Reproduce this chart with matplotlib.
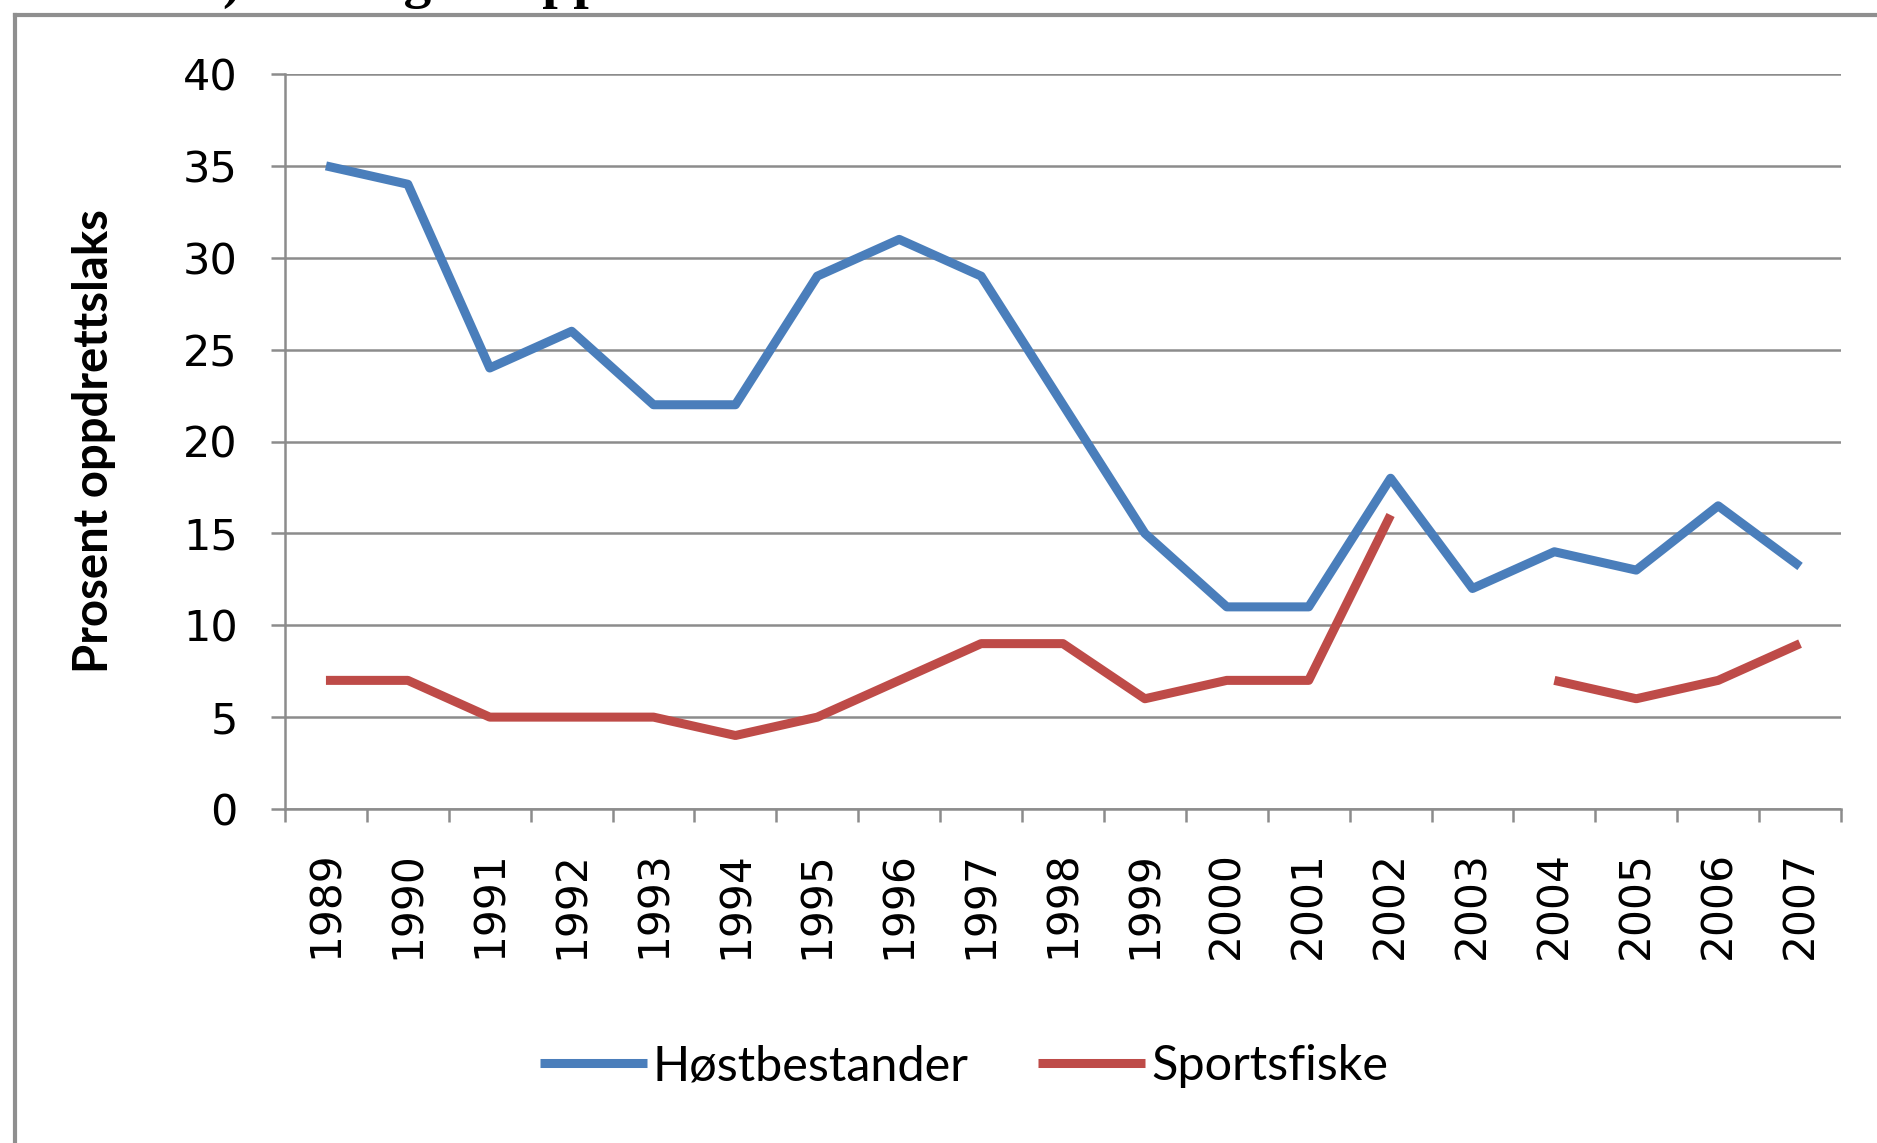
import numpy as np
import matplotlib
matplotlib.use("Agg")
import matplotlib.pyplot as plt
from matplotlib.lines import Line2D

years = ["1989", "1990", "1991", "1992", "1993", "1994", "1995", "1996", "1997", "1998",
         "1999", "2000", "2001", "2002", "2003", "2004", "2005", "2006", "2007"]
hostbestander = [35, 34, 24, 26, 22, 22, 29, 31, 29, 22, 15, 11, 11, 18, 12, 14, 13, 16.5, 13.2]
sportsfiske = [7, 7, 5, 5, 5, 4, 5, 7, 9, 9, 6, 7, 7, 16, np.nan, 7, 6, 7, 9]
yticks = [0, 5, 10, 15, 20, 25, 30, 35, 40]
series_names = ["Høstbestander", "Sportsfiske"]
ylabel = "Prosent oppdrettslaks"
title = "b) Innslag av oppdrettslaks"

BLUE = "#4a7ebb"
RED = "#be4b48"
GRID = "#8c8c8c"

W, H = 1877, 1143
fig = plt.figure(figsize=(W / 100, H / 100), dpi=100)
fig.patch.set_facecolor("white")

# outer frame (left and top lines only visible)
fig.add_artist(Line2D([15 / W, 15 / W], [0, 1 - 15 / H], transform=fig.transFigure,
                      color="#8f8f8f", lw=3))
fig.add_artist(Line2D([15 / W, 1], [1 - 15 / H, 1 - 15 / H], transform=fig.transFigure,
                      color="#8f8f8f", lw=3))

# cut-off title (only descenders visible, as in the reference)
fig.text(192 / W, 1 + 3 / H, title, family="Liberation Serif", weight="bold",
         fontsize=40, va="baseline", ha="left", color="black")

left, right = 285, 1841
top, bottom = 74, 809
ax = fig.add_axes([left / W, 1 - bottom / H, (right - left) / W, (bottom - top) / H])

x = np.arange(len(years))
ax.plot(x, hostbestander, color=BLUE, lw=6.5, solid_joinstyle="round", solid_capstyle="butt",
        label=series_names[0], zorder=3)
ax.plot(x, sportsfiske, color=RED, lw=6.5, solid_joinstyle="round", solid_capstyle="butt",
        label=series_names[1], zorder=3)

ax.set_xlim(-0.5, len(years) - 0.5)
ax.set_ylim(0, 40)
ax.set_yticks(yticks)
ax.set_yticklabels([str(v) for v in yticks], fontsize=31, family="DejaVu Sans")
ax.set_xticks(x)
ax.set_xticklabels(years, rotation=90, fontsize=30.5, family="DejaVu Sans")
ax.set_xticks(np.arange(len(years) + 1) - 0.5, minor=True)

ax.tick_params(axis="x", which="major", length=0, pad=30)
ax.tick_params(axis="x", which="minor", length=9, width=1.8, color=GRID, direction="out")
ax.tick_params(axis="y", which="major", length=10, width=1.8, color=GRID, direction="out", pad=24)

ax.grid(axis="y", color=GRID, lw=1.8, zorder=1)
ax.set_axisbelow(True)
for s in ["top", "right"]:
    ax.spines[s].set_visible(False)
for s in ["left", "bottom"]:
    ax.spines[s].set_color(GRID)
    ax.spines[s].set_linewidth(1.8)

ax.set_ylabel(ylabel, family="Lato", weight="bold", fontsize=34)
ax.yaxis.set_label_coords(-0.1086, 0.5)

fig.legend(loc="center", bbox_to_anchor=(964 / W, 1 - 1066 / H), ncol=2, frameon=False,
           prop={"family": "Lato", "size": 35}, handlelength=2.2, handletextpad=0.12,
           columnspacing=1.43)

fig.savefig("out.png", dpi=100, facecolor="white")
